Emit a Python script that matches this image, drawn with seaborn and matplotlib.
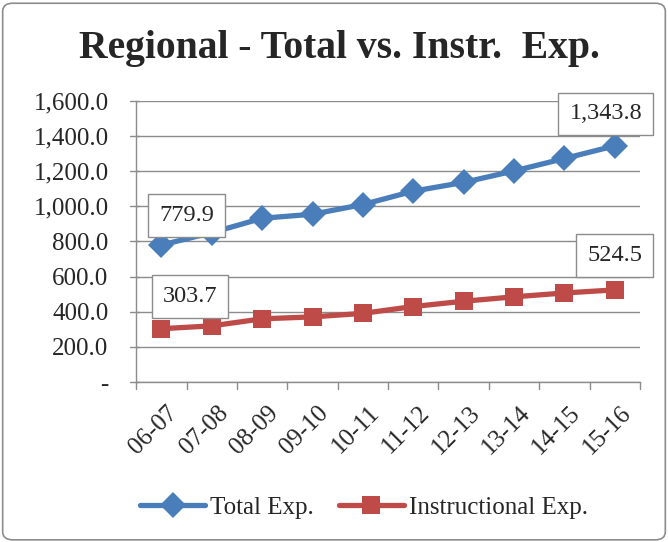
import matplotlib
matplotlib.use("Agg")
import matplotlib.pyplot as plt
import seaborn as sns
import pandas as pd
from matplotlib.patches import FancyBboxPatch
from matplotlib.ticker import FuncFormatter
from matplotlib.transforms import ScaledTranslation

categories = ["06-07", "07-08", "08-09", "09-10", "10-11", "11-12", "12-13", "13-14", "14-15", "15-16"]
total_exp = [779.9, 850.0, 932.0, 955.0, 1010.0, 1086.0, 1136.0, 1201.0, 1272.0, 1343.8]
instr_exp = [303.7, 320.0, 360.0, 371.0, 391.0, 430.0, 460.0, 485.0, 507.0, 524.5]
series_names = ["Total Exp.", "Instructional Exp."]
yticks = [0, 200, 400, 600, 800, 1000, 1200, 1400, 1600]

sns.set_theme(style="white")
plt.rcParams["font.family"] = ["Liberation Serif", "DejaVu Serif"]

df = pd.DataFrame({
    "x": list(range(len(categories))) * 2,
    "value": total_exp + instr_exp,
    "series": [series_names[0]] * len(categories) + [series_names[1]] * len(categories),
})

fig = plt.figure(figsize=(6.68, 5.42), dpi=100)
fig.patch.set_facecolor("white")
border = FancyBboxPatch((0.004, 0.004), 0.992, 0.99, boxstyle="round,pad=0,rounding_size=0.015",
                        transform=fig.transFigure, fill=False, edgecolor="#8c8c8c", linewidth=1.2)
fig.patches.append(border)

ax = fig.add_axes([0.204, 0.295, 0.754, 0.519])
palette = {series_names[0]: "#4A7EBB", series_names[1]: "#BE4B48"}
sns.lineplot(data=df, x="x", y="value", hue="series", style="series", palette=palette,
             markers={series_names[0]: "D", series_names[1]: "s"}, dashes=False,
             linewidth=3.8, markersize=12, markeredgewidth=0, ax=ax, legend=True)
for ln in ax.lines:
    if ln.get_marker() == "D":
        ln.set_markersize(13)
    elif ln.get_marker() == "s":
        ln.set_markersize(13.5)

ax.set_xlim(-0.5, len(categories) - 0.5)
ax.set_ylim(0, 1600)
ax.set_yticks(yticks)
ax.yaxis.set_major_formatter(FuncFormatter(lambda v, p: "-" if v == 0 else f"{v:,.1f}"))
ax.set_xticks(range(len(categories)))
ax.set_xticklabels(categories, rotation=45, ha="right", va="top", rotation_mode="anchor", fontsize=18)
ax.tick_params(axis="x", length=0, pad=14)
for lbl in ax.get_xticklabels():
    lbl.set_transform(lbl.get_transform() + ScaledTranslation(5 / 100, 0, fig.dpi_scale_trans))
ax.tick_params(axis="y", labelsize=18, length=0, pad=20)
for t in range(len(categories) + 1):
    ax.plot([t - 0.5, t - 0.5], [0, -0.025], transform=ax.get_xaxis_transform(), clip_on=False,
            color="#8c8c8c", lw=1)
for yv in yticks:
    ax.plot([-0.012, 0.006], [yv, yv], transform=ax.get_yaxis_transform(), clip_on=False,
            color="#8c8c8c", lw=1)
ax.set_xlabel("")
ax.set_ylabel("")
ax.grid(axis="y", color="#8c8c8c", linewidth=1)
ax.set_axisbelow(True)
for side in ["top", "right"]:
    ax.spines[side].set_visible(False)
for side in ["left", "bottom"]:
    ax.spines[side].set_color("#8c8c8c")
    ax.spines[side].set_linewidth(1)

box = dict(boxstyle="square,pad=0.45", facecolor="white", edgecolor="#8c8c8c", linewidth=1)
ax.text(0.5, 950, f"{total_exp[0]:,.1f}", fontsize=17.5, ha="center", va="center", bbox=box)
ax.text(0.57, 489, f"{instr_exp[0]:,.1f}", fontsize=17.5, ha="center", va="center", bbox=box)
ax.text(8.82, 1525, f"{total_exp[-1]:,.1f}", fontsize=17.5, ha="center", va="center", bbox=box, clip_on=False)
ax.text(9.0, 722, f"{instr_exp[-1]:,.1f}", fontsize=17.5, ha="center", va="center", bbox=box, clip_on=False)

handles, labels = ax.get_legend_handles_labels()
ax.legend(handles, labels, loc="center", bbox_to_anchor=(0.545, 0.063), bbox_transform=fig.transFigure,
          ncol=2, frameon=False, fontsize=18, handlelength=2.6, columnspacing=1.0, handletextpad=0.2)

fig.text(0.508, 0.91, "Regional - Total vs. Instr.  Exp.", ha="center", va="center",
         fontsize=28.5, fontweight="bold")

fig.savefig("out.png", dpi=100)
